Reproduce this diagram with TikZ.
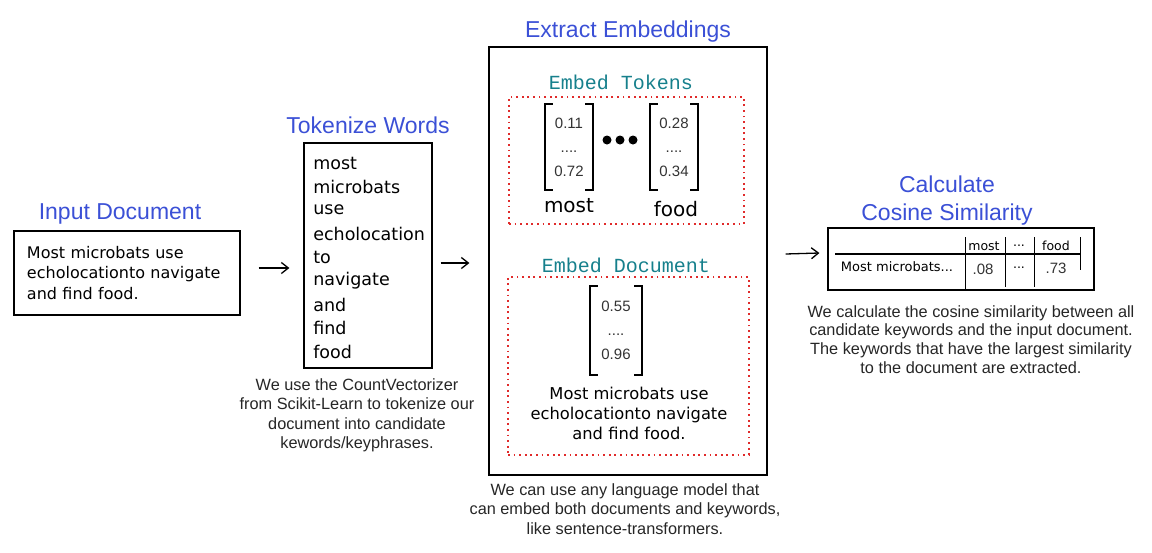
\documentclass[tikz,border=0pt]{standalone}
\usepackage{fontspec}
\setmainfont{Liberation Sans}
\newfontfamily\handfont{DejaVu Sans}
\newfontfamily\codefont{Liberation Mono}
\usetikzlibrary{arrows.meta,positioning}
\definecolor{titleblue}{HTML}{3B50D6}
\definecolor{codeteal}{HTML}{16808C}
\definecolor{dotred}{HTML}{E02B2B}

\begin{document}
\begin{tikzpicture}[x=1pt,y=-1pt,>={Straight Barb[length=7pt,width=11pt]},semithick]
  \tikzstyle{title}=[text=titleblue,align=center,font=\fontsize{23}{28}\selectfont]
  \tikzstyle{box}=[draw=black,line width=1.2pt,rectangle,inner sep=0pt]
  \tikzstyle{dotbox}=[draw=dotred,line width=1.8pt,dash pattern=on 1.8pt off 3.8pt,rectangle,inner sep=0pt]
  \tikzstyle{hand}=[font=\handfont\fontsize{16}{20.5}\selectfont]
  \tikzstyle{word}=[anchor=west,inner sep=0pt,font=\handfont\fontsize{17.5}{20}\selectfont]
  \tikzstyle{code}=[text=codeteal,font=\codefont\fontsize{20}{24}\selectfont]
  \tikzstyle{vec}=[minimum width=48pt,minimum height=86pt,inner sep=0pt,align=center,text=black!80,font=\fontsize{15}{24}\selectfont]
  \tikzstyle{bracket}=[draw=black,line width=2.2pt]
  \tikzstyle{note}=[align=center,text=black!85,font=\fontsize{16.3}{19.5}\selectfont]
  \tikzstyle{flow}=[->,line width=1.3pt]
  \useasboundingbox (0,0) rectangle (1152,552);

  % input
  \node[box,hand,minimum width=226pt,minimum height=84pt,text width=200pt,align=left] (inbox) at (127,273)
    {Most microbats use\\echolocationto navigate\\and find food.};
  \node[title] (intitle) [above=2pt of inbox,xshift=-7pt] {Input Document};

  % tokenize
  \node[box,minimum width=128pt,minimum height=225pt] (tokbox) at (368,255.5) {};
  \node[title] (toktitle) [above=5pt of tokbox] {Tokenize Words};
  \foreach \w [count=\i] in {most,microbats,use,echolocation,to,navigate,and,find,food}
    \node[word] (w\i) at (313,{163+23.6*(\i-1)}) {\w};
  \node[note] (toknote) [below=6pt of tokbox,xshift=-11pt]
    {We use the CountVectorizer\\from Scikit-Learn to tokenize our\\document into candidate\\kewords/keyphrases.};

  % embeddings
  \node[box,minimum width=278pt,minimum height=428pt] (embbox) at (628,261) {};
  \node[title] (embtitle) [above=0pt of embbox] {Extract Embeddings};
  \node[code] (tokcode) at (621,82) {Embed Tokens};
  \node[dotbox,minimum width=235pt,minimum height=127pt] (tokdots) at (626.5,160.5) {};
  \node[vec] (v1) at (569,147) {0.11\\....\\0.72};
  \node[vec] (v2) at (674,147) {0.28\\....\\0.34};
  \foreach \v in {v1,v2} {
    \draw[bracket] ([xshift=8pt]\v.north west) -- (\v.north west) -- (\v.south west) -- ([xshift=8pt]\v.south west);
    \draw[bracket] ([xshift=-8pt]\v.north east) -- (\v.north east) -- (\v.south east) -- ([xshift=-8pt]\v.south east);
  }
  \foreach \x in {607,620,633}
    \fill (\x,140) circle (4.5pt);
  \node[word,anchor=center,font=\handfont\fontsize{20}{24}\selectfont] (most) at (569,206) {most};
  \node[word,anchor=center,font=\handfont\fontsize{20}{24}\selectfont] (food) at (676,209) {food};

  \node[code] (doccode) at (626,265) {Embed Document};
  \node[dotbox,minimum width=241pt,minimum height=178pt] (docdots) at (628.5,366) {};
  \node[vec,minimum width=52pt,minimum height=89pt] (v3) at (616,330.5) {0.55\\....\\0.96};
  \draw[bracket] ([xshift=8pt]v3.north west) -- (v3.north west) -- (v3.south west) -- ([xshift=8pt]v3.south west);
  \draw[bracket] ([xshift=-8pt]v3.north east) -- (v3.north east) -- (v3.south east) -- ([xshift=-8pt]v3.south east);
  \node[hand,align=center,font=\handfont\fontsize{16.3}{20}\selectfont] (doctext) at (629,413)
    {Most microbats use\\echolocationto navigate\\and find food.};
  \node[note] (embnote) [below=4pt of embbox,xshift=-3pt]
    {We can use any language model that\\can embed both documents and keywords,\\like sentence-transformers.};

  % similarity
  \node[box,minimum width=266pt,minimum height=62pt] (simbox) at (961,259) {};
  \node[title] (simtitle) [above=-2pt of simbox,xshift=-14pt] {Calculate\\Cosine Similarity};
  \draw[line width=1.6pt] (835,254) -- (1081,254);
  \draw[line width=1pt] (965,237) -- (965,289);
  \draw[line width=1pt] (1005,237) -- (1005,287);
  \draw[line width=1pt] (1034,237) -- (1034,287);
  \draw[line width=1pt] (1080,237) -- (1080,270);
  \tikzstyle{cell}=[inner sep=0pt,font=\handfont\fontsize{12.5}{14}\selectfont]
  \node[cell] (hmost) at (984,246) {most};
  \node[cell] (hdots) at (1019,246) {...};
  \node[cell] (hfood) at (1056,246) {food};
  \node[cell,font=\handfont\fontsize{13}{14}\selectfont] (rdoc) at (897,267) {Most microbats...};
  \node[cell,font=\fontsize{15}{16}\selectfont,text=black!80] (r1) at (983,269) {.08};
  \node[cell] (r2) at (1019,268) {...};
  \node[cell,font=\fontsize{15}{16}\selectfont,text=black!80] (r3) at (1056,268) {.73};
  \node[note,font=\fontsize{16.3}{18.7}\selectfont] (simnote) [below=11pt of simbox,xshift=10pt]
    {We calculate the cosine similarity between all\\candidate keywords and the input document.\\The keywords that have the largest similarity\\to the document are extracted.};

  % arrows
  \draw[flow] ([shift={(18,-5)}]inbox.east) -- ([shift={(-14,12.5)}]tokbox.west);
  \draw[flow] ([shift={(8,7.5)}]tokbox.east) -- ([shift={(-19,2)}]embbox.west);
  \draw[flow] ([shift={(18,-7)}]embbox.east) -- ([shift={(-8,-6)}]simbox.west);
\end{tikzpicture}
\end{document}
